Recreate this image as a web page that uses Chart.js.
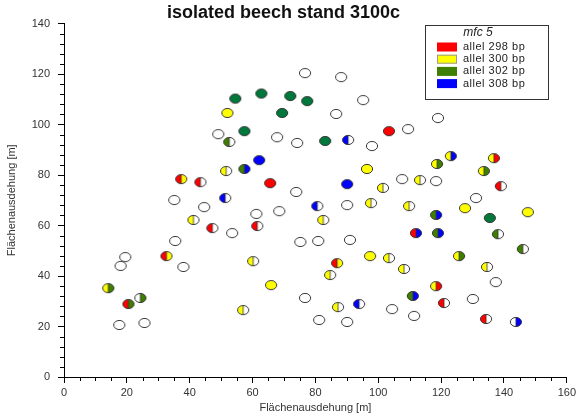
<!DOCTYPE html>
<html lang="de">
<head>
<meta charset="UTF-8">
<title>isolated beech stand 3100c</title>
<script src="https://cdn.jsdelivr.net/npm/chart.js"></script>
<style>
  body { margin: 0; background: #fff; }
  #wrap { width: 579px; height: 417px; }
</style>
</head>
<body>
<div id="wrap"><canvas id="beechChart" width="579" height="417"></canvas></div>
<script>
// Baumpositionen [m] und Allele links/rechts (0 = weiss)
var posX = [76.7, 88.2, 95.2, 54.5, 62.8, 72.0, 77.4, 52.0, 69.4, 86.6,
            119.0, 57.4, 49.1, 52.6, 67.8, 74.2, 83.1, 90.4, 103.4, 109.5,
            98.0, 62.1, 51.6, 57.4, 37.3, 43.4, 35.1, 51.3, 44.6, 65.6,
            73.9, 90.1, 96.4, 118.7, 123.1, 136.8, 133.6, 139.0, 107.6, 113.3,
            118.4, 101.5, 131.1, 80.6, 90.1, 97.7, 109.8, 127.6, 147.6, 61.2,
            68.5, 82.5, 61.5, 118.4, 135.5, 112.0, 119.0, 138.1, 146.0, 75.2,
            80.9, 91.0, 60.2, 97.4, 103.4, 125.7, 134.6, 86.9, 108.2, 84.7,
            137.4, 65.9, 118.4, 76.7, 111.0, 120.9, 130.1, 87.2, 93.9, 104.4,
            111.4, 134.3, 143.8, 81.2, 90.1, 41.2, 47.2, 53.5, 35.4, 19.5,
            18.0, 32.6, 38.0, 14.1, 24.3, 20.5, 57.0, 17.6, 25.6];
var posY = [120.4, 118.8, 109.7, 110.3, 112.3, 111.3, 109.3, 104.6, 104.6, 104.2,
            102.6, 97.4, 96.2, 93.1, 95.0, 92.7, 93.5, 93.9, 97.4, 98.2,
            91.5, 85.9, 81.6, 82.4, 78.4, 77.2, 70.1, 70.9, 67.3, 76.8,
            73.3, 76.4, 82.4, 84.4, 87.5, 86.7, 81.6, 75.6, 78.4, 78.0,
            77.6, 74.9, 70.9, 67.7, 68.1, 68.9, 67.7, 66.9, 65.3, 64.6,
            65.7, 62.2, 59.8, 64.2, 63.0, 57.0, 57.0, 56.6, 50.7, 53.5,
            53.9, 54.3, 45.9, 47.9, 47.1, 47.9, 43.6, 45.1, 42.8, 40.4,
            37.6, 36.4, 36.0, 31.3, 32.1, 29.3, 30.9, 27.7, 28.9, 26.9,
            24.2, 23.0, 21.8, 22.6, 21.8, 62.2, 59.0, 57.0, 53.9, 47.5,
            44.0, 47.9, 43.6, 35.2, 31.3, 28.9, 26.5, 20.6, 21.4];
var alleleLeft = [0, 0, 0, 302, 302, 302, 302, 300, 302, 0,
                  0, 302, 0, 302, 0, 0, 302, 308, 298, 0,
                  0, 308, 300, 302, 298, 298, 0, 308, 0, 298,
                  0, 308, 300, 300, 300, 300, 300, 298, 0, 300,
                  0, 300, 0, 308, 0, 300, 300, 300, 300, 0,
                  0, 300, 298, 302, 302, 298, 302, 302, 302, 0,
                  0, 0, 300, 300, 300, 300, 300, 298, 300, 300,
                  0, 300, 300, 0, 302, 298, 0, 300, 308, 0,
                  0, 298, 0, 0, 0, 300, 298, 0, 0, 0,
                  0, 298, 0, 300, 0, 298, 300, 0, 0];
var alleleRight = [0, 0, 0, 302, 302, 302, 302, 300, 302, 0,
                   0, 302, 0, 0, 0, 0, 302, 0, 298, 0,
                   0, 308, 0, 308, 300, 0, 0, 0, 0, 298,
                   0, 308, 300, 302, 308, 298, 302, 0, 0, 0,
                   0, 0, 0, 0, 0, 0, 0, 300, 300, 0,
                   0, 0, 0, 308, 302, 308, 308, 0, 0, 0,
                   0, 0, 0, 300, 0, 302, 0, 300, 0, 0,
                   0, 300, 298, 0, 308, 0, 0, 0, 0, 0,
                   0, 0, 308, 0, 0, 0, 0, 0, 0, 0,
                   0, 300, 0, 302, 302, 302, 0, 0, 0];

var alleles = [298, 300, 302, 308];
var alleleLabels = ['allel 298 bp', 'allel 300 bp', 'allel 302 bp', 'allel 308 bp'];
var alleleColors = ['#ff0000', '#ffff00', '#3f7f00', '#0000ff'];
var homo302Color = '#00773b'; // volle 302-Kreise sind dunkler gruen

function alleleColor(a) {
    return a === 0 ? '#ffffff' : alleleColors[alleles.indexOf(a)];
}

// Kleine Ellipse als Punktsymbol, links/rechts gefaerbt
var markerCache = {};
function makeMarker(left, right) {
    var key = left + '_' + right;
    if (markerCache[key]) return markerCache[key];
    var c = document.createElement('canvas');
    c.width = 14; c.height = 12;
    var ctx = c.getContext('2d');
    var cx = 7, cy = 6, rx = 5.6, ry = 4.6;
    if (left === right) {
        ctx.fillStyle = left === 302 ? homo302Color : alleleColor(left);
        ctx.beginPath(); ctx.ellipse(cx, cy, rx, ry, 0, 0, 2 * Math.PI); ctx.fill();
    } else {
        ctx.fillStyle = alleleColor(left);
        ctx.beginPath(); ctx.ellipse(cx, cy, rx, ry, 0, Math.PI / 2, Math.PI * 1.5); ctx.fill();
        ctx.fillStyle = alleleColor(right);
        ctx.beginPath(); ctx.ellipse(cx, cy, rx, ry, 0, -Math.PI / 2, Math.PI / 2); ctx.fill();
        ctx.strokeStyle = '#333'; ctx.lineWidth = 0.8;
        ctx.beginPath(); ctx.moveTo(cx, cy - ry); ctx.lineTo(cx, cy + ry); ctx.stroke();
    }
    ctx.strokeStyle = '#3a3a3a'; ctx.lineWidth = 1;
    ctx.beginPath(); ctx.ellipse(cx, cy, rx, ry, 0, 0, 2 * Math.PI); ctx.stroke();
    markerCache[key] = c;
    return c;
}

var points = posX.map(function (x, i) { return { x: x, y: posY[i] }; });
var markers = posX.map(function (x, i) { return makeMarker(alleleLeft[i], alleleRight[i]); });

// kleine Zwischenstriche an den Achsen
var minorTicks = {
    id: 'minorTicks',
    afterDraw: function (chart) {
        var ctx = chart.ctx, xs = chart.scales.x, ys = chart.scales.y;
        ctx.save();
        ctx.strokeStyle = '#000'; ctx.lineWidth = 1;
        ctx.beginPath();
        for (var v = 0; v <= 160; v += 5) {
            if (v % 20 === 0) continue;
            var px = Math.round(xs.getPixelForValue(v)) + 0.5;
            ctx.moveTo(px, xs.top); ctx.lineTo(px, xs.top + 4);
        }
        for (var w = 0; w <= 140; w += 4) {
            if (w % 20 === 0) continue;
            var py = Math.round(ys.getPixelForValue(w)) + 0.5;
            ctx.moveTo(ys.right - 4, py); ctx.lineTo(ys.right, py);
        }
        ctx.stroke();
        ctx.restore();
    }
};

// Legendenkasten oben rechts
var alleleLegend = {
    id: 'alleleLegend',
    afterDraw: function (chart) {
        var ctx = chart.ctx;
        ctx.save();
        ctx.fillStyle = '#fff';
        ctx.fillRect(426, 25, 123, 74);
        ctx.strokeStyle = '#333'; ctx.lineWidth = 1;
        ctx.strokeRect(425.5, 25.5, 123, 74);
        ctx.fillStyle = '#222';
        ctx.textBaseline = 'middle';
        ctx.textAlign = 'center';
        ctx.font = 'italic 12px "Liberation Sans", Arial, sans-serif';
        ctx.fillText('mfc 5', 478, 33);
        ctx.textAlign = 'left';
        ctx.font = '11px "Liberation Sans", Arial, sans-serif';
        ctx.letterSpacing = '0.5px';
        for (var i = 0; i < alleleLabels.length; i++) {
            var cy = 47 + i * 12.2;
            ctx.fillStyle = alleleColors[i];
            ctx.fillRect(437, cy - 4.5, 20, 9);
            if (alleles[i] === 300) {
                ctx.strokeStyle = '#999';
                ctx.strokeRect(437.5, cy - 4, 19, 8);
            }
            ctx.fillStyle = '#222';
            ctx.fillText(alleleLabels[i], 463, cy);
        }
        ctx.restore();
    }
};

var axisFont = { family: '"Liberation Sans", Arial, sans-serif', size: 11 };

var chart = new Chart(document.getElementById('beechChart').getContext('2d'), {
    type: 'scatter',
    data: {
        datasets: [{
            data: points,
            pointStyle: markers,
            pointRadius: 6,
            pointHoverRadius: 6
        }]
    },
    options: {
        responsive: false,
        animation: false,
        layout: { padding: { right: 12 } },
        plugins: {
            legend: { display: false },
            tooltip: { enabled: false },
            title: {
                display: true,
                text: 'isolated beech stand 3100c',
                color: '#111',
                font: { family: '"Liberation Sans", Arial, sans-serif', size: 18, weight: 'bold', lineHeight: 1.2 },
                padding: { top: 2, bottom: 0 }
            }
        },
        scales: {
            x: {
                type: 'linear',
                min: 0, max: 160,
                ticks: { stepSize: 20, color: '#333', font: axisFont, padding: 3, maxRotation: 0 },
                grid: { drawOnChartArea: false, tickLength: 6, color: '#000' },
                border: { color: '#000' },
                title: { display: true, text: 'Flächenausdehung [m]', color: '#333', font: axisFont, padding: { top: 0, bottom: 2 } },
                afterFit: function (s) { s.height = 40; }
            },
            y: {
                type: 'linear',
                min: 0, max: 140,
                ticks: { stepSize: 20, color: '#333', font: axisFont, padding: 8 },
                grid: { drawOnChartArea: false, tickLength: 6, color: '#000' },
                border: { color: '#000' },
                title: { display: true, text: 'Flächenausdehung [m]', color: '#333', font: axisFont, padding: { top: 5, bottom: 0 } },
                afterFit: function (s) { s.width = 64; }
            }
        }
    },
    plugins: [minorTicks, alleleLegend]
});
</script>
</body>
</html>
